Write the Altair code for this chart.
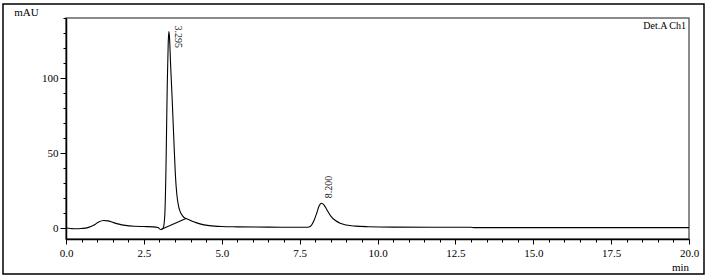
import altair as alt
import pandas as pd

# chromatogram signal (min, mAU)
time = [0.0, 0.15, 0.3, 0.5, 0.7, 0.9, 1.05, 1.2, 1.35, 1.5, 1.7, 1.9, 2.2, 2.5, 2.8, 2.95,
        3.05, 3.12, 3.17, 3.21, 3.25, 3.28, 3.30, 3.32, 3.36, 3.41, 3.46, 3.51, 3.56, 3.62,
        3.70, 3.78, 3.85, 3.95, 4.1, 4.3, 4.6, 5.0, 5.5, 6.5, 7.5, 7.75, 7.85, 7.95, 8.05,
        8.12, 8.2, 8.28, 8.38, 8.5, 8.65, 8.8, 9.0, 9.3, 9.7, 10.5, 13.0, 13.1, 20.0]
mau = [0.0, -0.3, -0.5, -0.3, 0.3, 2.0, 4.0, 5.0, 4.8, 3.8, 2.6, 1.8, 1.2, 1.0, 0.8, 0.3,
       -1.0, 0.0, 8.0, 40.0, 95.0, 122.0, 131.0, 128.0, 108.0, 85.0, 60.0, 36.0, 22.0, 14.0,
       9.5, 7.2, 6.4, 5.6, 4.2, 2.8, 1.6, 1.0, 0.8, 0.6, 0.5, 0.5, 1.2, 4.5, 10.0,
       14.5, 16.5, 15.5, 12.0, 8.0, 5.0, 3.2, 2.0, 1.3, 0.9, 0.6, 0.5, 0.3, 0.3]

# integration baseline drawn under the first peak
base_time = [3.05, 3.85]
base_mau = [-1.0, 6.4]

# peak annotations
peak_time = [3.295, 8.200]
peak_mau = [131.0, 16.5]
peak_label = ["3.295", "8.200"]

x_ticks = [0.0, 0.5, 1.0, 1.5, 2.0, 2.5, 3.0, 3.5, 4.0, 4.5, 5.0, 5.5, 6.0, 6.5, 7.0, 7.5,
           8.0, 8.5, 9.0, 9.5, 10.0, 10.5, 11.0, 11.5, 12.0, 12.5, 13.0, 13.5, 14.0, 14.5,
           15.0, 15.5, 16.0, 16.5, 17.0, 17.5, 18.0, 18.5, 19.0, 19.5, 20.0]
y_ticks = [0, 10, 20, 30, 40, 50, 60, 70, 80, 90, 100, 110, 120, 130, 140]

FONT = "Liberation Serif"

line_df = pd.DataFrame({
    "t": time + base_time,
    "v": mau + base_mau,
    "s": ["signal"] * len(time) + ["baseline"] * len(base_time),
})
peak_df = pd.DataFrame({"t": peak_time, "v": peak_mau, "lab": peak_label})

xscale = alt.Scale(domain=[0, 20], nice=False, zero=False)
yscale = alt.Scale(domain=[-7.3, 140], nice=False, zero=False)

xaxis = alt.Axis(
    values=x_ticks,
    labelExpr="datum.value % 2.5 === 0 ? format(datum.value, '.1f') : ''",
    tickSize={"condition": {"test": "datum.value % 2.5 === 0", "value": 5}, "value": 3},
    title="min", titleFont=FONT, titleFontWeight="normal", titleFontSize=11,
    titleX=614, titleY=28, titleAnchor="middle", titleAlign="center", titleBaseline="middle",
    labelFont=FONT, labelFontSize=11, labelColor="black", labelPadding=3, labelFlush=False,
    labelOverlap=False,
    domainColor="black", domainWidth=1.5, tickColor="black", grid=False,
)
yaxis = alt.Axis(
    values=y_ticks,
    labelExpr="datum.value % 50 === 0 ? datum.value : ''",
    tickSize={"condition": {"test": "datum.value % 50 === 0", "value": 6}, "value": 3},
    title="mAU", titleFont=FONT, titleFontWeight="normal", titleFontSize=11, titleAngle=0,
    titleX=-40, titleY=-6, titleAlign="center", titleBaseline="middle",
    labelFont=FONT, labelFontSize=11, labelColor="black", labelPadding=2,
    labelOverlap=False,
    domainColor="black", domainWidth=1.5, tickColor="black", grid=False,
)

X = alt.X("t:Q", scale=xscale, axis=xaxis)
Y = alt.Y("v:Q", scale=yscale, axis=yaxis)

lines = alt.Chart(line_df).mark_line(color="black", strokeWidth=1.1, interpolate="monotone").encode(
    x=X, y=Y, detail="s:N",
)

lab1 = alt.Chart(peak_df[peak_df.lab == "3.295"]).mark_text(
    angle=90, align="left", baseline="middle", font=FONT, fontSize=10, dx=-6, dy=-9, color="#222"
).encode(x=X, y=Y, text="lab:N")

lab2 = alt.Chart(peak_df[peak_df.lab == "8.200"]).mark_text(
    angle=270, align="left", baseline="middle", font=FONT, fontSize=10, dx=5, dy=8, color="#222"
).encode(x=X, y=Y, text="lab:N")

det = alt.Chart(pd.DataFrame({"a": ["Det.A Ch1"]})).mark_text(
    align="right", baseline="middle", font=FONT, fontSize=10, color="black"
).encode(x=alt.value(620), y=alt.value(8), text="a:N")

frame = alt.Chart(pd.DataFrame({"a": [0]})).mark_rect(
    fillOpacity=0, stroke="black", strokeWidth=1.5
).encode(x=alt.value(-63), x2=alt.value(638), y=alt.value(-14), y2=alt.value(256))

chart = alt.layer(lines, lab1, lab2, det, frame).properties(
    width=623, height=221,
    padding={"left": 66, "top": 18, "right": 19, "bottom": 38},
    autosize=alt.AutoSizeParams(type="none"),
    background="white",
).configure_view(stroke="#666", strokeWidth=1.5)

chart.save("out.html", embed_options={"renderer": "svg", "actions": False})
